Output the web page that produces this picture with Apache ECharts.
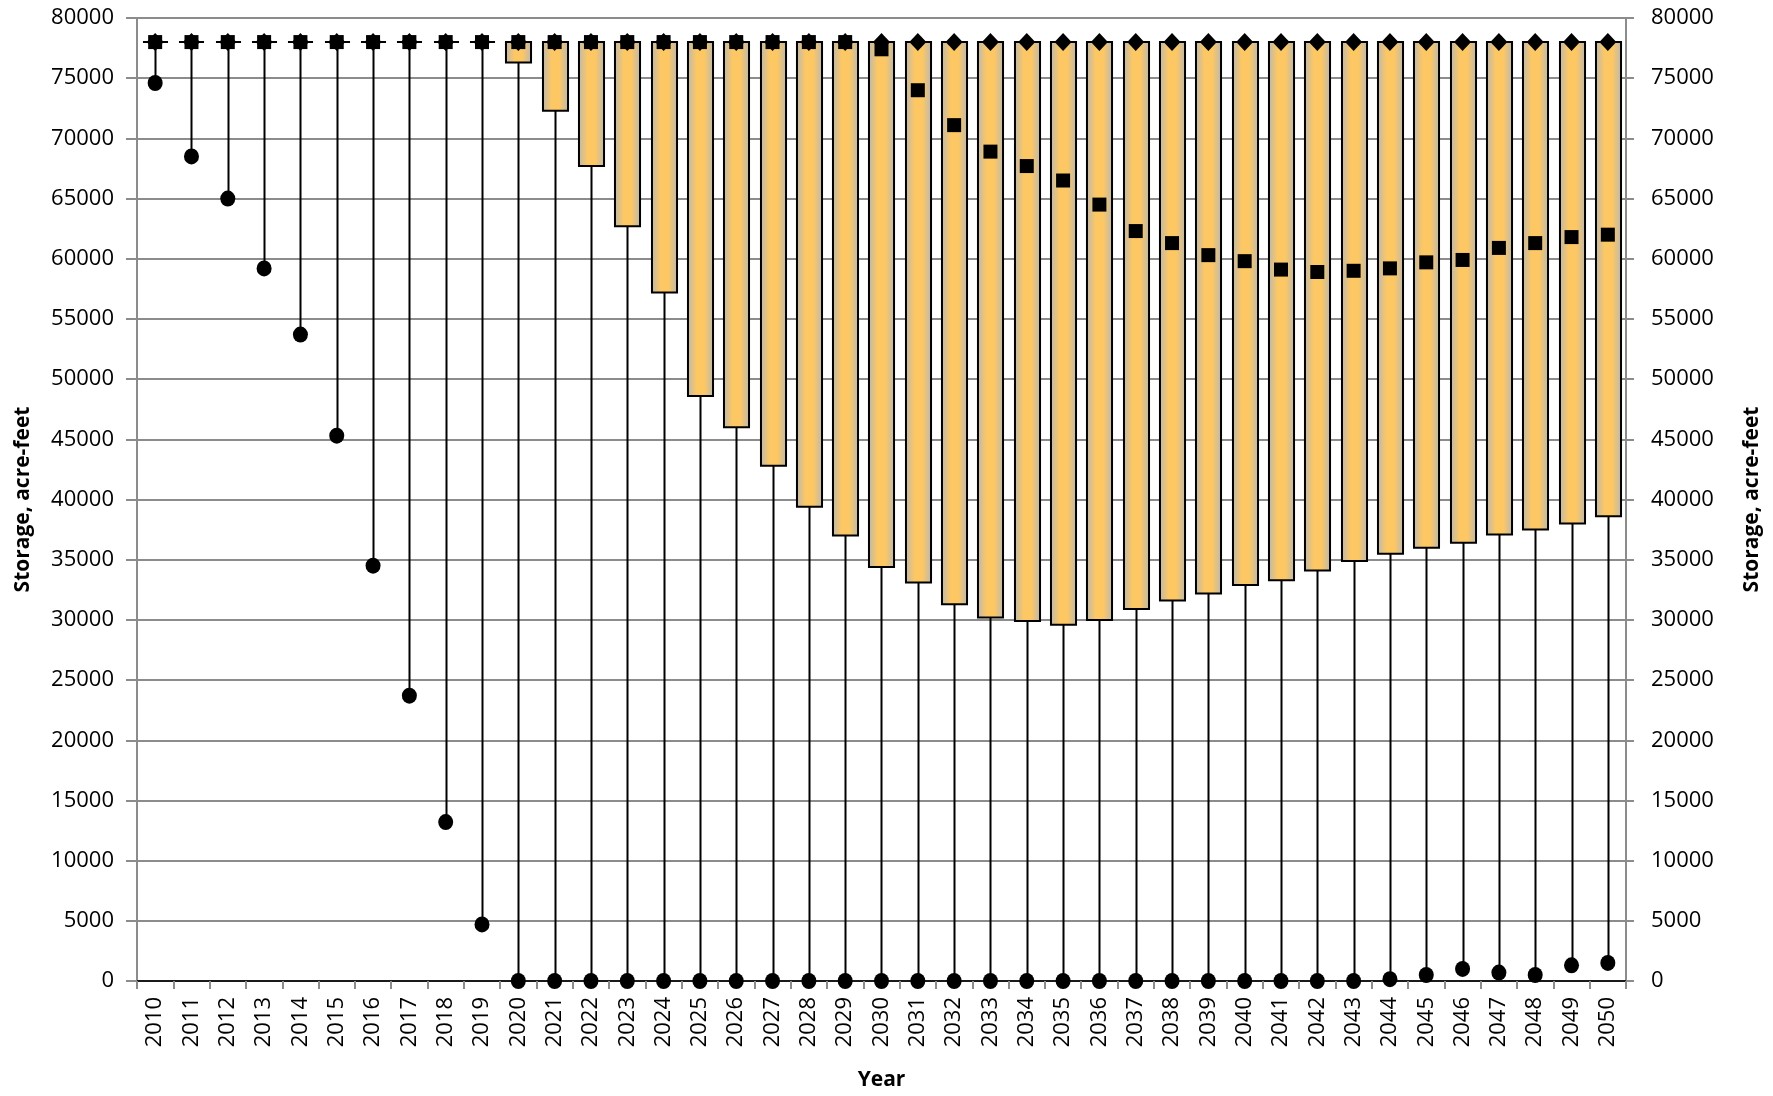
<!DOCTYPE html>
<html>
<head>
<meta charset="utf-8">
<title>Storage, acre-feet by Year</title>
<script src="https://cdn.jsdelivr.net/npm/echarts@6/dist/echarts.min.js"></script>
<style>
  html, body { margin: 0; padding: 0; background: #fff; }
  #chart { width: 1773px; height: 1096px; }
</style>
</head>
<body>
<div id="chart"></div>
<script>
// Years on the category axis
const years = [
  '2010','2011','2012','2013','2014','2015','2016','2017','2018','2019',
  '2020','2021','2022','2023','2024','2025','2026','2027','2028','2029',
  '2030','2031','2032','2033','2034','2035','2036','2037','2038','2039',
  '2040','2041','2042','2043','2044','2045','2046','2047','2048','2049',
  '2050'
];

// Maximum storage (diamond markers, top of whisker)
const maxStorage = [
  78000, 78000, 78000, 78000, 78000, 78000, 78000, 78000, 78000, 78000,
  78000, 78000, 78000, 78000, 78000, 78000, 78000, 78000, 78000, 78000,
  78000, 78000, 78000, 78000, 78000, 78000, 78000, 78000, 78000, 78000,
  78000, 78000, 78000, 78000, 78000, 78000, 78000, 78000, 78000, 78000,
  78000
];

// Upper edge of the box
const upperBox = [
  78000, 78000, 78000, 78000, 78000, 78000, 78000, 78000, 78000, 78000,
  78000, 78000, 78000, 78000, 78000, 78000, 78000, 78000, 78000, 78000,
  78000, 78000, 78000, 78000, 78000, 78000, 78000, 78000, 78000, 78000,
  78000, 78000, 78000, 78000, 78000, 78000, 78000, 78000, 78000, 78000,
  78000
];

// Lower edge of the box
const lowerBox = [
  78000, 78000, 78000, 78000, 78000, 78000, 78000, 78000, 78000, 78000,
  76300, 72300, 67700, 62700, 57200, 48600, 46000, 42800, 39400, 37000,
  34400, 33100, 31300, 30200, 29900, 29600, 30000, 30900, 31600, 32200,
  32900, 33300, 34100, 34900, 35500, 36000, 36400, 37100, 37500, 38000,
  38600
];

// Median storage (square markers)
const medianStorage = [
  78000, 78000, 78000, 78000, 78000, 78000, 78000, 78000, 78000, 78000,
  78000, 78000, 78000, 78000, 78000, 78000, 78000, 78000, 78000, 78000,
  77400, 74000, 71100, 68900, 67700, 66500, 64500, 62300, 61300, 60300,
  59800, 59100, 58900, 59000, 59200, 59700, 59900, 60900, 61300, 61800,
  62000
];

// Minimum storage (circle markers, bottom of whisker)
const minStorage = [
  74600, 68500, 65000, 59200, 53700, 45300, 34500, 23700, 13200, 4700,
  0, 0, 0, 0, 0, 0, 0, 0, 0, 0,
  0, 0, 0, 0, 0, 0, 0, 0, 0, 0,
  0, 0, 0, 0, 150, 500, 1000, 700, 500, 1300,
  1500
];

// Storage axis ticks
const yMin = 0;
const yMax = 80000;
const yStep = 5000;

const FONT = '"Open Sans", "Liberation Sans", sans-serif';
const GRID_GREY = '#8c8c8c';
const plainNumber = (v) => String(v);

const boxData = years.map((y, i) => [i, maxStorage[i], upperBox[i], lowerBox[i], minStorage[i]]);

function renderBox(params, api) {
  const idx = api.value(0);
  const pMax = api.coord([idx, api.value(1)]);
  const pTop = api.coord([idx, api.value(2)]);
  const pBot = api.coord([idx, api.value(3)]);
  const pMin = api.coord([idx, api.value(4)]);
  const band = api.size([1, 0])[0];
  const w = band * 0.69;
  const cx = Math.round(pMax[0]) + 0.5;
  return {
    type: 'group',
    children: [
      {
        type: 'line',
        shape: { x1: cx, y1: pMax[1], x2: cx, y2: pMin[1] },
        style: { stroke: '#000', lineWidth: 2 }
      },
      {
        type: 'rect',
        shape: { x: cx - w / 2, y: pTop[1], width: w, height: pBot[1] - pTop[1] },
        style: {
          fill: new echarts.graphic.LinearGradient(0, 0, 1, 0, [
            { offset: 0, color: '#b9b7b3' },
            { offset: 0.36, color: '#fdc864' },
            { offset: 0.64, color: '#fdc864' },
            { offset: 1, color: '#b9b7b3' }
          ]),
          stroke: '#000',
          lineWidth: 2
        }
      }
    ]
  };
}

const chart = echarts.init(document.getElementById('chart'), null, { renderer: 'canvas' });

chart.setOption({
  animation: false,
  backgroundColor: '#ffffff',
  grid: { left: 137, right: 147, top: 18, bottom: 109, containLabel: false },
  xAxis: [
    {
      type: 'category',
      data: years,
      boundaryGap: true,
      position: 'bottom',
      name: 'Year',
      nameLocation: 'middle',
      nameGap: 89,
      nameTextStyle: { fontFamily: FONT, fontSize: 21, fontWeight: 'bold', color: '#000' },
      axisLine: { show: true, lineStyle: { color: GRID_GREY, width: 2 } },
      axisTick: { show: true, length: 8, interval: 0, lineStyle: { color: GRID_GREY, width: 2 } },
      axisLabel: {
        interval: 0,
        rotate: 90,
        margin: 16,
        fontFamily: FONT,
        fontSize: 22,
        color: '#000'
      },
      splitLine: { show: false }
    },
    {
      // dark frame along the top of the plot
      type: 'category',
      data: years,
      position: 'top',
      axisLine: { show: true, lineStyle: { color: '#1a1a1a', width: 2 } },
      axisTick: { show: false },
      axisLabel: { show: false },
      splitLine: { show: false }
    }
  ],
  yAxis: [
    {
      type: 'value',
      position: 'left',
      min: yMin,
      max: yMax,
      interval: yStep,
      name: 'Storage, acre-feet',
      nameLocation: 'middle',
      nameRotate: 90,
      nameGap: 103,
      nameTextStyle: { fontFamily: FONT, fontSize: 21, fontWeight: 'bold', color: '#000' },
      axisLine: { show: true, lineStyle: { color: GRID_GREY, width: 2 } },
      axisTick: { show: true, length: 11, lineStyle: { color: GRID_GREY, width: 2 } },
      axisLabel: { margin: 23, fontFamily: FONT, fontSize: 22, color: '#000', formatter: plainNumber },
      splitLine: { show: true, lineStyle: { color: GRID_GREY, width: 2 } }
    },
    {
      type: 'value',
      position: 'right',
      min: yMin,
      max: yMax,
      interval: yStep,
      name: 'Storage, acre-feet',
      nameLocation: 'middle',
      nameRotate: 90,
      nameGap: 116,
      nameTextStyle: { fontFamily: FONT, fontSize: 21, fontWeight: 'bold', color: '#000' },
      axisLine: { show: true, lineStyle: { color: GRID_GREY, width: 2 } },
      axisTick: { show: true, length: 8, lineStyle: { color: GRID_GREY, width: 2 } },
      axisLabel: { margin: 25, fontFamily: FONT, fontSize: 22, color: '#000', formatter: plainNumber },
      splitLine: { show: false }
    }
  ],
  series: [
    {
      name: 'Range',
      type: 'custom',
      renderItem: renderBox,
      encode: { x: 0, y: [1, 2, 3, 4] },
      data: boxData,
      z: 2
    },
    {
      name: 'Maximum',
      type: 'scatter',
      data: maxStorage,
      symbol: 'diamond',
      symbolSize: [17, 18],
      itemStyle: { color: '#000', opacity: 1 },
      z: 3
    },
    {
      name: 'Median',
      type: 'scatter',
      data: medianStorage,
      symbol: 'rect',
      symbolSize: 14,
      itemStyle: { color: '#000', opacity: 1 },
      z: 4
    },
    {
      name: 'Minimum',
      type: 'scatter',
      data: minStorage,
      symbol: 'circle',
      symbolSize: [15, 16],
      itemStyle: { color: '#000', opacity: 1 },
      z: 4
    }
  ]
});
</script>
</body>
</html>
